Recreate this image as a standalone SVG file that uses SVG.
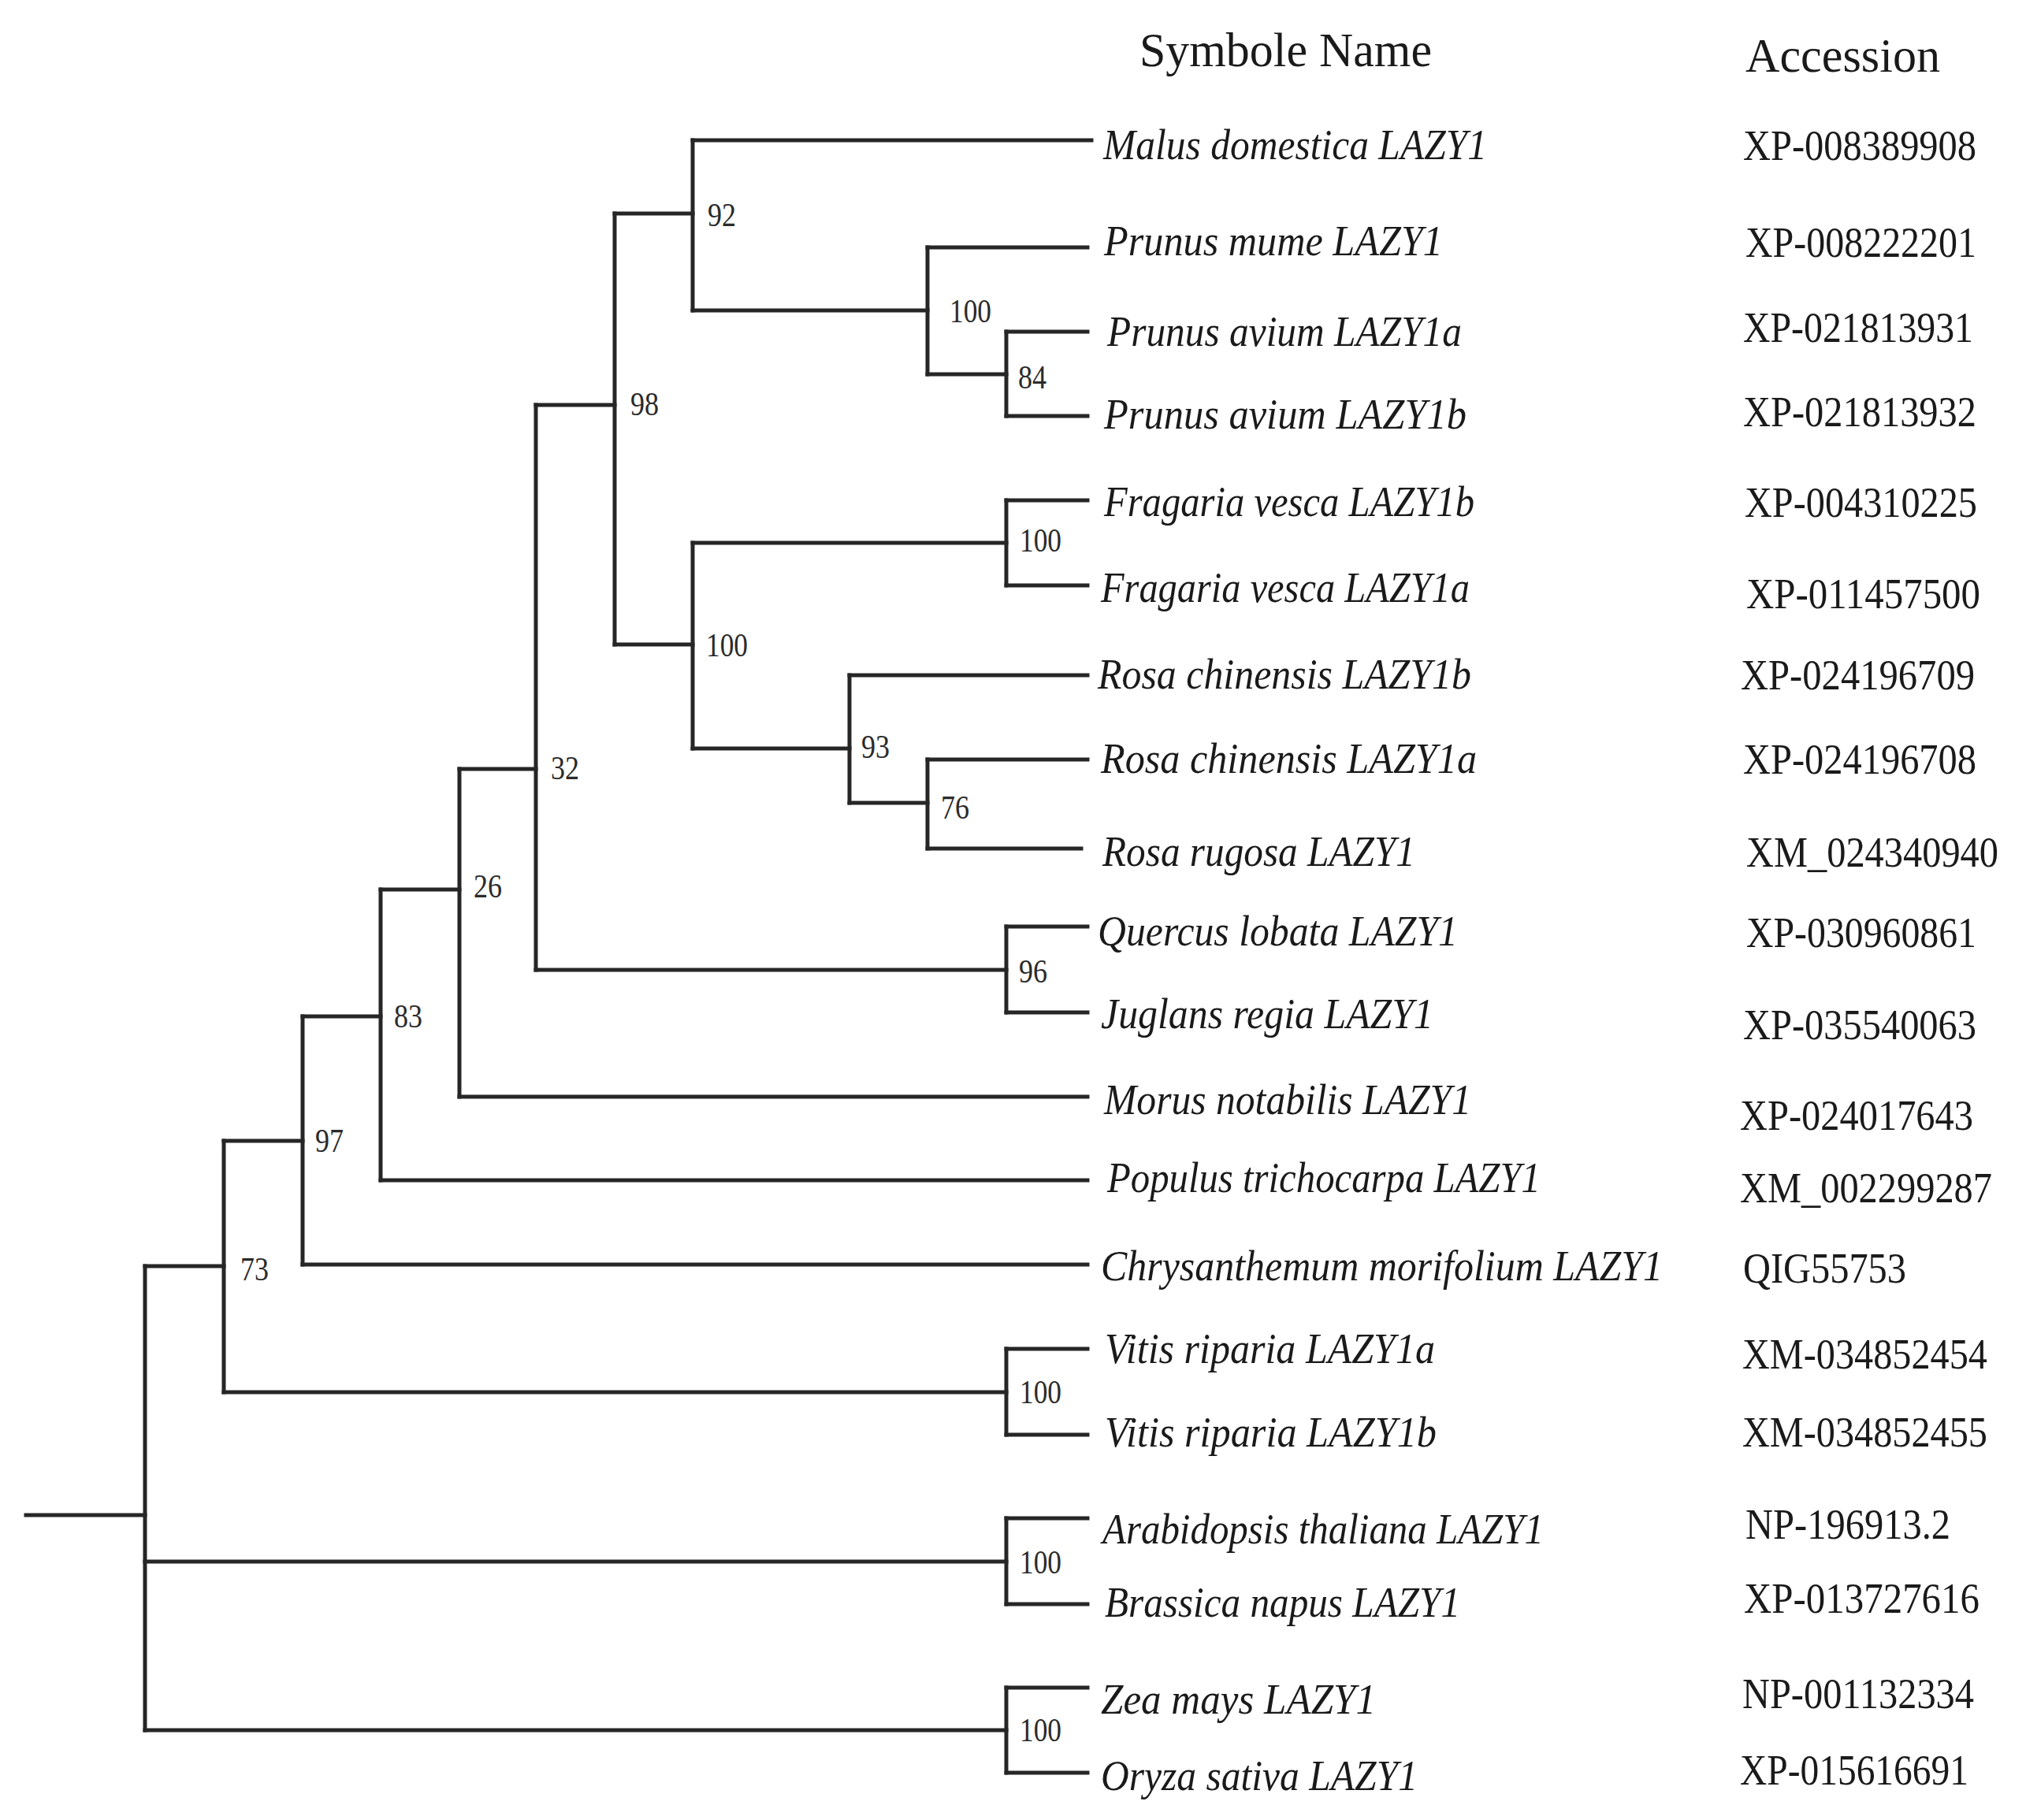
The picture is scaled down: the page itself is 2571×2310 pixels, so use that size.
<svg xmlns="http://www.w3.org/2000/svg" width="2571" height="2310" viewBox="0 0 2571 2310">
<style>
.br{fill:none;stroke:#262626;stroke-width:5;stroke-linecap:square}
.sp{font-family:"Liberation Serif","Times New Roman",serif;font-style:italic;font-size:54px;fill:#1a1a1a}
.acc{font-family:"Liberation Serif","Times New Roman",serif;font-size:55px;fill:#1a1a1a}
.hd{font-family:"Liberation Serif","Times New Roman",serif;font-size:61px;fill:#1a1a1a}
.bs{font-family:"Liberation Serif","Times New Roman",serif;font-size:42px;fill:#2b2b2b}
</style>
<rect width="2571" height="2310" fill="#ffffff"/>
<g id="connectors" class="br">
<path d="M33,1923 H184"/>
<path d="M184,1607 V2196"/>
<path d="M184,1607 H284"/>
<path d="M184,1982 H1277"/>
<path d="M184,2196 H1277"/>
<path d="M284,1448 V1767"/>
<path d="M284,1448 H384"/>
<path d="M284,1767 H1277"/>
<path d="M384,1290 V1605"/>
<path d="M384,1290 H483"/>
<path d="M384,1605 H1380"/>
<path d="M483,1129 V1498"/>
<path d="M483,1129 H583"/>
<path d="M483,1498 H1380"/>
<path d="M583,976 V1392"/>
<path d="M583,976 H680"/>
<path d="M583,1392 H1380"/>
<path d="M680,514 V1231"/>
<path d="M680,514 H780"/>
<path d="M680,1231 H1277"/>
<path d="M780,271 V818"/>
<path d="M780,271 H879"/>
<path d="M780,818 H879"/>
<path d="M879,178 V394"/>
<path d="M879,178 H1385"/>
<path d="M879,394 H1177"/>
<path d="M1177,314 V475"/>
<path d="M1177,314 H1380"/>
<path d="M1177,475 H1277"/>
<path d="M1277,421 V528"/>
<path d="M1277,421 H1380"/>
<path d="M1277,528 H1380"/>
<path d="M879,689 V950"/>
<path d="M879,689 H1277"/>
<path d="M879,950 H1078"/>
<path d="M1277,635 V743"/>
<path d="M1277,635 H1380"/>
<path d="M1277,743 H1380"/>
<path d="M1078,857 V1019"/>
<path d="M1078,857 H1380"/>
<path d="M1078,1019 H1177"/>
<path d="M1177,964 V1077"/>
<path d="M1177,964 H1380"/>
<path d="M1177,1077 H1372"/>
<path d="M1277,1176 V1285"/>
<path d="M1277,1176 H1380"/>
<path d="M1277,1285 H1380"/>
<path d="M1277,1712 V1821"/>
<path d="M1277,1712 H1380"/>
<path d="M1277,1821 H1380"/>
<path d="M1277,1927 V2036"/>
<path d="M1277,1927 H1380"/>
<path d="M1277,2036 H1380"/>
<path d="M1277,2142 V2250"/>
<path d="M1277,2142 H1380"/>
<path d="M1277,2250 H1380"/>
</g>
<g id="headers">
<text class="hd" x="1446" y="84" textLength="371" lengthAdjust="spacingAndGlyphs">Symbole Name</text>
<text class="hd" x="2215" y="91" textLength="247" lengthAdjust="spacingAndGlyphs">Accession</text>
</g>
<g id="node-92"><text class="bs" x="898" y="287" textLength="36" lengthAdjust="spacingAndGlyphs">92</text></g>
<g id="node-100-prunus"><text class="bs" x="1205" y="409" textLength="53" lengthAdjust="spacingAndGlyphs">100</text></g>
<g id="node-84"><text class="bs" x="1292" y="493" textLength="36" lengthAdjust="spacingAndGlyphs">84</text></g>
<g id="node-98"><text class="bs" x="800" y="527" textLength="36" lengthAdjust="spacingAndGlyphs">98</text></g>
<g id="node-100-fragaria"><text class="bs" x="1294" y="700" textLength="53" lengthAdjust="spacingAndGlyphs">100</text></g>
<g id="node-100-rosaceae"><text class="bs" x="896" y="833" textLength="53" lengthAdjust="spacingAndGlyphs">100</text></g>
<g id="node-93"><text class="bs" x="1093" y="962" textLength="36" lengthAdjust="spacingAndGlyphs">93</text></g>
<g id="node-76"><text class="bs" x="1194" y="1039" textLength="36" lengthAdjust="spacingAndGlyphs">76</text></g>
<g id="node-32"><text class="bs" x="699" y="989" textLength="36" lengthAdjust="spacingAndGlyphs">32</text></g>
<g id="node-26"><text class="bs" x="601" y="1139" textLength="36" lengthAdjust="spacingAndGlyphs">26</text></g>
<g id="node-96"><text class="bs" x="1293" y="1247" textLength="36" lengthAdjust="spacingAndGlyphs">96</text></g>
<g id="node-83"><text class="bs" x="500" y="1304" textLength="36" lengthAdjust="spacingAndGlyphs">83</text></g>
<g id="node-97"><text class="bs" x="400" y="1462" textLength="36" lengthAdjust="spacingAndGlyphs">97</text></g>
<g id="node-73"><text class="bs" x="305" y="1625" textLength="36" lengthAdjust="spacingAndGlyphs">73</text></g>
<g id="node-100-vitis"><text class="bs" x="1294" y="1781" textLength="53" lengthAdjust="spacingAndGlyphs">100</text></g>
<g id="node-100-brassicaceae"><text class="bs" x="1294" y="1997" textLength="53" lengthAdjust="spacingAndGlyphs">100</text></g>
<g id="node-100-poaceae"><text class="bs" x="1294" y="2210" textLength="53" lengthAdjust="spacingAndGlyphs">100</text></g>
<g id="leaf-malus"><text class="sp" x="1400" y="202" textLength="487" lengthAdjust="spacingAndGlyphs">Malus domestica LAZY1</text><text class="acc" x="2212" y="203" textLength="296" lengthAdjust="spacingAndGlyphs">XP-008389908</text></g>
<g id="leaf-prunus-mume"><text class="sp" x="1401" y="324" textLength="430" lengthAdjust="spacingAndGlyphs">Prunus mume LAZY1</text><text class="acc" x="2215" y="326" textLength="293" lengthAdjust="spacingAndGlyphs">XP-008222201</text></g>
<g id="leaf-prunus-avium-a"><text class="sp" x="1405" y="439" textLength="450" lengthAdjust="spacingAndGlyphs">Prunus avium LAZY1a</text><text class="acc" x="2212" y="434" textLength="292" lengthAdjust="spacingAndGlyphs">XP-021813931</text></g>
<g id="leaf-prunus-avium-b"><text class="sp" x="1401" y="544" textLength="460" lengthAdjust="spacingAndGlyphs">Prunus avium LAZY1b</text><text class="acc" x="2212" y="541" textLength="296" lengthAdjust="spacingAndGlyphs">XP-021813932</text></g>
<g id="leaf-fragaria-b"><text class="sp" x="1401" y="655" textLength="470" lengthAdjust="spacingAndGlyphs">Fragaria vesca LAZY1b</text><text class="acc" x="2214" y="656" textLength="295" lengthAdjust="spacingAndGlyphs">XP-004310225</text></g>
<g id="leaf-fragaria-a"><text class="sp" x="1397" y="764" textLength="468" lengthAdjust="spacingAndGlyphs">Fragaria vesca LAZY1a</text><text class="acc" x="2216" y="772" textLength="297" lengthAdjust="spacingAndGlyphs">XP-011457500</text></g>
<g id="leaf-rosa-chinensis-b"><text class="sp" x="1393" y="874" textLength="474" lengthAdjust="spacingAndGlyphs">Rosa chinensis LAZY1b</text><text class="acc" x="2209" y="875" textLength="297" lengthAdjust="spacingAndGlyphs">XP-024196709</text></g>
<g id="leaf-rosa-chinensis-a"><text class="sp" x="1397" y="981" textLength="477" lengthAdjust="spacingAndGlyphs">Rosa chinensis LAZY1a</text><text class="acc" x="2212" y="982" textLength="296" lengthAdjust="spacingAndGlyphs">XP-024196708</text></g>
<g id="leaf-rosa-rugosa"><text class="sp" x="1399" y="1099" textLength="397" lengthAdjust="spacingAndGlyphs">Rosa rugosa LAZY1</text><text class="acc" x="2216" y="1100" textLength="320" lengthAdjust="spacingAndGlyphs">XM_024340940</text></g>
<g id="leaf-quercus"><text class="sp" x="1393" y="1200" textLength="457" lengthAdjust="spacingAndGlyphs">Quercus lobata LAZY1</text><text class="acc" x="2216" y="1202" textLength="292" lengthAdjust="spacingAndGlyphs">XP-030960861</text></g>
<g id="leaf-juglans"><text class="sp" x="1397" y="1305" textLength="422" lengthAdjust="spacingAndGlyphs">Juglans regia LAZY1</text><text class="acc" x="2212" y="1319" textLength="296" lengthAdjust="spacingAndGlyphs">XP-035540063</text></g>
<g id="leaf-morus"><text class="sp" x="1401" y="1414" textLength="466" lengthAdjust="spacingAndGlyphs">Morus notabilis LAZY1</text><text class="acc" x="2208" y="1434" textLength="296" lengthAdjust="spacingAndGlyphs">XP-024017643</text></g>
<g id="leaf-populus"><text class="sp" x="1405" y="1513" textLength="550" lengthAdjust="spacingAndGlyphs">Populus trichocarpa LAZY1</text><text class="acc" x="2208" y="1526" textLength="320" lengthAdjust="spacingAndGlyphs">XM_002299287</text></g>
<g id="leaf-chrysanthemum"><text class="sp" x="1397" y="1625" textLength="713" lengthAdjust="spacingAndGlyphs">Chrysanthemum morifolium LAZY1</text><text class="acc" x="2212" y="1628" textLength="207" lengthAdjust="spacingAndGlyphs">QIG55753</text></g>
<g id="leaf-vitis-a"><text class="sp" x="1402" y="1730" textLength="419" lengthAdjust="spacingAndGlyphs">Vitis riparia LAZY1a</text><text class="acc" x="2211" y="1737" textLength="311" lengthAdjust="spacingAndGlyphs">XM-034852454</text></g>
<g id="leaf-vitis-b"><text class="sp" x="1402" y="1836" textLength="421" lengthAdjust="spacingAndGlyphs">Vitis riparia LAZY1b</text><text class="acc" x="2211" y="1836" textLength="311" lengthAdjust="spacingAndGlyphs">XM-034852455</text></g>
<g id="leaf-arabidopsis"><text class="sp" x="1399" y="1959" textLength="560" lengthAdjust="spacingAndGlyphs">Arabidopsis thaliana LAZY1</text><text class="acc" x="2215" y="1953" textLength="260" lengthAdjust="spacingAndGlyphs">NP-196913.2</text></g>
<g id="leaf-brassica"><text class="sp" x="1402" y="2052" textLength="451" lengthAdjust="spacingAndGlyphs">Brassica napus LAZY1</text><text class="acc" x="2213" y="2047" textLength="299" lengthAdjust="spacingAndGlyphs">XP-013727616</text></g>
<g id="leaf-zea"><text class="sp" x="1397" y="2175" textLength="349" lengthAdjust="spacingAndGlyphs">Zea mays LAZY1</text><text class="acc" x="2211" y="2168" textLength="294" lengthAdjust="spacingAndGlyphs">NP-001132334</text></g>
<g id="leaf-oryza"><text class="sp" x="1397" y="2272" textLength="402" lengthAdjust="spacingAndGlyphs">Oryza sativa LAZY1</text><text class="acc" x="2208" y="2265" textLength="290" lengthAdjust="spacingAndGlyphs">XP-015616691</text></g>
</svg>
